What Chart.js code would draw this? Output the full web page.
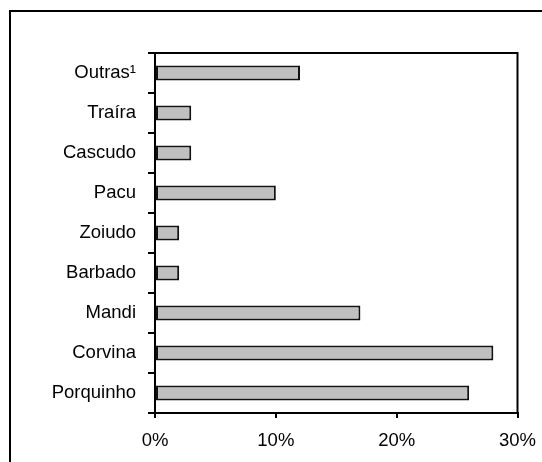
<!DOCTYPE html>
<html>
<head>
<meta charset="utf-8">
<script src="https://cdn.jsdelivr.net/npm/chart.js@4.4.0/dist/chart.umd.min.js"></script>
<style>
    html, body { margin: 0; padding: 0; background: #fff; overflow: hidden; }
    #wrap { position: relative; width: 542px; height: 462px; }
    #frame {
        position: absolute; left: 9px; top: 10px; width: 560px; height: 500px;
        border: 2px solid #000; box-sizing: border-box;
    }
    canvas { position: absolute; left: 0; top: 0; }
</style>
</head>
<body>
<div id="wrap">
    <div id="frame"></div>
    <canvas id="chart" width="542" height="462"></canvas>
</div>
<script>
// Species (top to bottom as shown) and their share of the catch (%)
const species = ['Outras¹', 'Traíra', 'Cascudo', 'Pacu', 'Zoiudo', 'Barbado', 'Mandi', 'Corvina', 'Porquinho'];
const shares = [12, 3, 3, 10, 2, 2, 17, 28, 26];
const xTicks = [0, 10, 20, 30];

// Draws the top and right edges of the plot box
const plotBox = {
    id: 'plotBox',
    afterDraw(chart) {
        const { ctx, chartArea } = chart;
        ctx.save();
        ctx.strokeStyle = '#000';
        ctx.lineWidth = 2;
        ctx.beginPath();
        ctx.moveTo(chartArea.left, chartArea.top);
        ctx.lineTo(chartArea.right, chartArea.top);
        ctx.lineTo(chartArea.right, chartArea.bottom);
        ctx.stroke();
        ctx.restore();
    }
};

const ctx = document.getElementById('chart').getContext('2d');
new Chart(ctx, {
    type: 'bar',
    data: {
        labels: species,
        datasets: [{
            data: shares,
            backgroundColor: '#c0c0c0',
            borderColor: '#111',
            borderWidth: 2,
            borderSkipped: false,
            barPercentage: 0.37,
            categoryPercentage: 1
        }]
    },
    options: {
        indexAxis: 'y',
        responsive: false,
        animation: false,
        layout: { padding: { left: 0, right: 24.5, top: 53, bottom: 0 } },
        plugins: {
            legend: { display: false },
            tooltip: { enabled: false }
        },
        scales: {
            x: {
                min: 0,
                max: 30,
                afterBuildTicks: axis => { axis.ticks = xTicks.map(v => ({ value: v })); },
                afterFit: axis => {
                    axis.height = 49;
                    axis.paddingLeft = 0;
                    axis.paddingRight = 0;
                },
                ticks: {
                    color: '#000',
                    font: { family: 'Liberation Sans', size: 18.5 },
                    padding: 12,
                    callback: v => v + '%'
                },
                grid: { drawOnChartArea: false, drawTicks: true, tickLength: 5, color: '#000', lineWidth: 2 },
                border: { color: '#000', width: 2 }
            },
            y: {
                afterFit: axis => {
                    axis.width = 155;
                    axis.paddingTop = 0;
                    axis.paddingBottom = 0;
                },
                ticks: {
                    color: '#000',
                    font: { family: 'Liberation Sans', size: 18.5 },
                    padding: 12
                },
                grid: { drawOnChartArea: false, drawTicks: true, tickLength: 7, color: '#000', lineWidth: 2, offset: true },
                border: { color: '#000', width: 2 }
            }
        }
    },
    plugins: [plotBox]
});
</script>
</body>
</html>
